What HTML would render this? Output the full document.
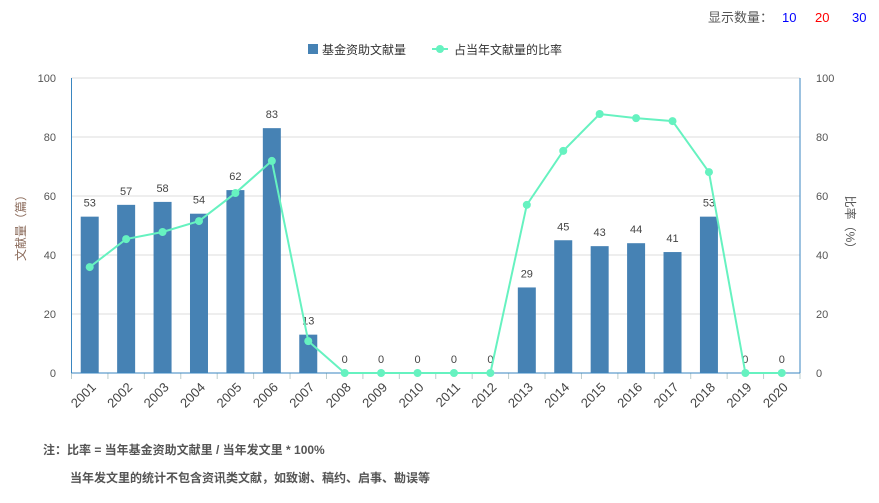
<!DOCTYPE html>
<html><head><meta charset="utf-8"><style>
body{margin:0;background:#fff;width:879px;height:498px;overflow:hidden;font-family:"Liberation Sans","Noto Sans CJK SC",sans-serif;}
svg text{font-family:"Liberation Sans","Noto Sans CJK SC",sans-serif;}
</style></head><body>
<svg id="c" width="879" height="498" xmlns="http://www.w3.org/2000/svg">
<text x="708" y="22" font-size="13" fill="#555">显示数量：</text>
<text x="782" y="22" font-size="13" fill="#00f">10</text>
<text x="815" y="22" font-size="13" fill="#f00">20</text>
<text x="852" y="22" font-size="13" fill="#00f">30</text>
<rect x="308" y="44" width="10" height="10" fill="#4682b4"/>
<text x="322" y="54" font-size="12" fill="#333">基金资助文献量</text>
<line x1="432" y1="49" x2="448" y2="49" stroke="#66f2c0" stroke-width="2"/>
<circle cx="440" cy="49" r="4" fill="#66f2c0"/>
<text x="454" y="54" font-size="12" fill="#333">占当年文献量的比率</text>
<g id="g"></g>
<text font-size="12" font-weight="bold" fill="#555" x="43" y="454">注：比率 = 当年基金资助文献里 / 当年发文里 * 100%</text>
<text font-size="12" font-weight="bold" fill="#555" x="70" y="482">当年发文里的统计不包含资讯类文献，如致谢、稿约、启事、勘误等</text>
</svg>
<script>
var g=document.getElementById('g'),h='';
var L=71.5,R=800,T=78,B=373,W=(R-L)/20;
var bars=[53,57,58,54,62,83,13,0,0,0,0,0,29,45,43,44,41,53,0,0];
var rat=[35.9,45.4,47.8,51.5,61,71.9,10.8,0,0,0,0,0,57,75.3,87.8,86.4,85.4,68.1,0,0];
function y(v){return B-(B-T)*v/100;}
for(var i=0;i<=5;i++){var yy=y(i*20);
 if(i>0)h+='<line x1="'+L+'" x2="'+R+'" y1="'+yy+'" y2="'+yy+'" stroke="#ddd"/>';
 h+='<text x="56" y="'+(yy+4)+'" font-size="11" fill="#555" text-anchor="end">'+i*20+'</text>';
 h+='<text x="816" y="'+(yy+4)+'" font-size="11" fill="#555">'+i*20+'</text>';}
h+='<line x1="'+L+'" x2="'+L+'" y1="'+T+'" y2="'+B+'" stroke="#3a86c0"/>';
h+='<line x1="'+R+'" x2="'+R+'" y1="'+T+'" y2="'+B+'" stroke="#3a86c0"/>';
h+='<text transform="translate(25,225) rotate(-90)" font-size="12" fill="#8a6a5a" text-anchor="middle">文献量（篇）</text>';
h+='<text transform="translate(846,225) rotate(90)" font-size="12" fill="#555" text-anchor="middle">比率（%）</text>';
var pts=[];
for(var i=0;i<20;i++){var cx=L+W*(i+.5);
 if(bars[i]>0)h+='<rect x="'+(cx-9)+'" y="'+y(bars[i])+'" width="18" height="'+(B-y(bars[i]))+'" fill="#4682b4"/>';
 h+='<text x="'+cx+'" y="'+(y(bars[i])-10)+'" font-size="11" fill="#444" text-anchor="middle">'+bars[i]+'</text>';
 h+='<line x1="'+(L+W*i)+'" x2="'+(L+W*i)+'" y1="'+B+'" y2="'+(B+6)+'" stroke="#bcc"/>';
 h+='<text transform="translate('+(cx+7)+','+(B+15)+') rotate(-45)" font-size="13" fill="#444" text-anchor="end">'+(2001+i)+'</text>';
 pts.push(cx+','+y(rat[i]));}
h+='<line x1="'+R+'" x2="'+R+'" y1="'+B+'" y2="'+(B+6)+'" stroke="#bcc"/>';
h+='<line x1="'+L+'" x2="'+R+'" y1="'+B+'" y2="'+B+'" stroke="#3a86c0"/>';
h+='<polyline points="'+pts.join(' ')+'" fill="none" stroke="#66f2c0" stroke-width="2"/>';
pts.forEach(function(p){var a=p.split(',');h+='<circle cx="'+a[0]+'" cy="'+a[1]+'" r="4" fill="#66f2c0"/>';});
g.innerHTML=h;
</script>
</body></html>
